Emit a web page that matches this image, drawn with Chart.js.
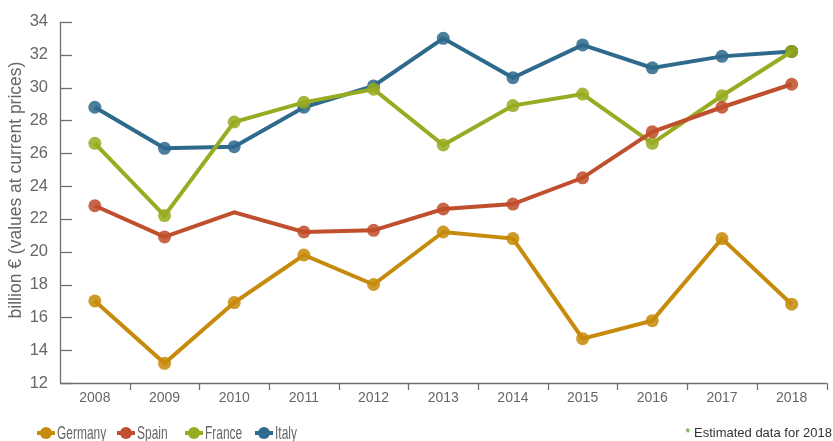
<!DOCTYPE html>
<html><head><meta charset="utf-8">
<script src="https://cdn.jsdelivr.net/npm/chart.js@4/dist/chart.umd.min.js"></script>
<style>html,body{margin:0;padding:0;background:#fff}#wrap{width:833px;height:441px;position:relative}</style>
</head><body><div id="wrap"><canvas id="c" width="833" height="441"></canvas></div>
<script>
const years = ['2008','2009','2010','2011','2012','2013','2014','2015','2016','2017','2018'];
const germany = [17.0,13.2,16.9,19.8,18.0,21.2,20.8,14.7,15.8,20.8,16.8];
const spain   = [22.8,20.9,22.4,21.2,21.3,22.6,22.9,24.5,27.3,28.8,30.2];
const france  = [26.6,22.2,27.9,29.1,29.9,26.5,28.9,29.6,26.6,29.5,32.2];
const italy   = [28.8,26.3,26.4,28.8,30.1,33.0,30.6,32.6,31.2,31.9,32.2];
const seriesNames = ['Germany','Spain','France','Italy'];
const yTitle = 'billion € (values at current prices)';
const note = 'Estimated data for 2018';

const colors = ['#c78b0c','#c04f2d','#99ab22','#2f6a8d'];
const FONT = '"Liberation Sans", Arial, sans-serif';

function ds(label, data, color, extra) {
  return Object.assign({
    label, data, borderColor: color, backgroundColor: color,
    pointBackgroundColor: color + 'dd', pointBorderWidth: 0,
    pointRadius: 6.5, pointHoverRadius: 6.5, borderWidth: 4, tension: 0
  }, extra || {});
}

const italyPointColors = italy.map((v,i)=> i === italy.length-1 ? '#2a5222' : colors[3] + 'dd');
const spainRadius = spain.map((v,i)=> i === 2 ? 0 : 6.5);

const innerTicks = {
  id: 'innerTicks',
  afterDraw(chart) {
    const ctx = chart.ctx, y = chart.scales.y, ca = chart.chartArea;
    ctx.save();
    ctx.strokeStyle = '#707070'; ctx.lineWidth = 1.3;
    y.ticks.forEach((t) => {
      const py = Math.round(y.getPixelForValue(t.value)) + 0.5;
      ctx.beginPath(); ctx.moveTo(ca.left, py); ctx.lineTo(ca.left + 12, py); ctx.stroke();
    });
    ctx.beginPath(); ctx.moveTo(ca.left + 0.5, ca.top); ctx.lineTo(ca.left + 0.5, ca.bottom); ctx.stroke();
    ctx.beginPath(); ctx.moveTo(ca.left, ca.bottom + 0.5); ctx.lineTo(ca.right, ca.bottom + 0.5); ctx.stroke();
    const n = years.length, w = (ca.right - ca.left) / n;
    for (let i = 1; i <= n; i++) {
      const px = Math.round(ca.left + i * w) + 0.5;
      ctx.beginPath(); ctx.moveTo(px, ca.bottom); ctx.lineTo(px, ca.bottom + 7); ctx.stroke();
    }
    ctx.fillStyle = '#666';
    ctx.font = '17.5px ' + FONT;
    ctx.translate(16, 190);
    ctx.rotate(-Math.PI / 2);
    ctx.textAlign = 'center'; ctx.textBaseline = 'middle';
    ctx.fillText(yTitle, 0, 0);
    ctx.restore();

    // legend
    const lx = [37, 117, 185, 255];
    const ly = 433;
    chart.data.datasets.forEach((d, i) => {
      const c = d.borderColor;
      ctx.save();
      ctx.strokeStyle = c; ctx.lineWidth = 4;
      ctx.beginPath(); ctx.moveTo(lx[i], ly); ctx.lineTo(lx[i] + 18, ly); ctx.stroke();
      ctx.fillStyle = c;
      ctx.beginPath(); ctx.arc(lx[i] + 9, ly, 6, 0, Math.PI * 2); ctx.fill();
      ctx.fillStyle = '#666';
      ctx.font = '19px ' + FONT;
      ctx.textBaseline = 'middle';
      ctx.textAlign = 'left';
      ctx.translate(lx[i] + 20, ly + 1);
      ctx.scale(0.63, 1);
      ctx.fillText(d.label, 0, 0);
      ctx.restore();
    });
    ctx.save();
    ctx.font = '13px ' + FONT;
    ctx.textBaseline = 'middle';
    ctx.textAlign = 'right';
    ctx.fillStyle = '#333';
    ctx.fillText(note, 832, ly);
    const w2 = ctx.measureText(note + ' ').width;
    ctx.fillStyle = '#4a9a2a';
    ctx.fillText('*', 832 - w2, ly);
    ctx.restore();
  }
};

new Chart(document.getElementById('c'), {
  type: 'line',
  data: {
    labels: years,
    datasets: [
      ds(seriesNames[0], germany, colors[0]),
      ds(seriesNames[1], spain, colors[1], {pointRadius: spainRadius}),
      ds(seriesNames[2], france, colors[2]),
      ds(seriesNames[3], italy, colors[3], {pointBackgroundColor: italyPointColors})
    ]
  },
  options: {
    responsive: false, animation: false, devicePixelRatio: 1,
    layout: { padding: { top: 17, right: 4, left: 0, bottom: 0 } },
    plugins: { legend: { display: false }, tooltip: { enabled: false } },
    scales: {
      x: {
        offset: true,
        grid: { display: false, drawTicks: false },
        border: { display: false },
        ticks: { color: '#666', font: { family: FONT, size: 14 }, padding: 7 },
        afterFit(s) { s.height = 58; }
      },
      y: {
        min: 12, max: 34,
        grid: { display: false, drawTicks: false },
        border: { display: false },
        ticks: { stepSize: 2, color: '#666', font: { family: FONT, size: 16.5 }, padding: 12 },
        afterFit(s) { s.width = 60; }
      }
    }
  },
  plugins: [innerTicks]
});
</script></body></html>
